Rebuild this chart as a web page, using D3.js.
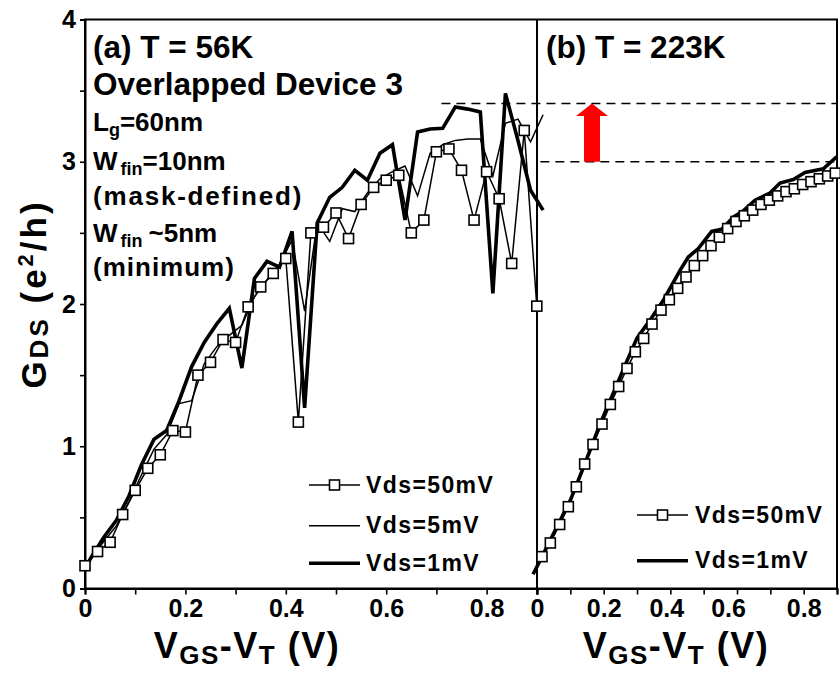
<!DOCTYPE html>
<html><head><meta charset="utf-8">
<script src="https://cdn.jsdelivr.net/npm/d3@7"></script>
<style>
body{margin:0;background:#fff}
svg{display:block}
text{font-family:"Liberation Sans",Arial,sans-serif;font-weight:bold;fill:#000}
</style>
</head><body>
<svg id="c" width="840" height="673"></svg>
<script>
// ---------- DATA ----------
// Panel (a) T = 56K, Vds = 50 mV (square markers)
const aX50 = [0,0.025,0.05,0.075,0.1,0.125,0.15,0.175,0.2,0.225,0.25,0.275,0.3,0.325,0.35,0.375,0.4,0.425,0.45,0.475,0.5,0.525,0.55,0.575,0.6,0.625,0.65,0.675,0.7,0.725,0.75,0.775,0.8,0.825,0.85,0.875,0.9];
const aY50 = [0.16,0.26,0.325,0.52,0.69,0.845,0.94,1.11,1.10,1.50,1.59,1.75,1.73,1.98,2.12,2.215,2.32,1.17,2.50,2.54,2.64,2.46,2.70,2.82,2.87,2.905,2.50,2.59,3.07,3.09,2.94,2.59,2.93,2.74,2.285,3.22,1.985];
// Panel (a), Vds = 5 mV and 1 mV share this x grid
const aXlow = [0,0.0125,0.0375,0.0625,0.0875,0.1125,0.1375,0.1625,0.1875,0.2125,0.2375,0.2625,0.2875,0.3125,0.3375,0.3625,0.3875,0.4125,0.4375,0.4625,0.4875,0.5125,0.5375,0.5625,0.5875,0.6125,0.6375,0.6625,0.6875,0.7125,0.7375,0.7625,0.7875,0.8125,0.8375,0.8625,0.8875,0.9125];
const aY5 = [0.15,0.22,0.33,0.44,0.61,0.80,0.98,1.08,1.30,1.32,1.58,1.70,1.78,1.85,2.05,2.17,2.28,2.45,1.95,2.57,2.44,2.67,2.65,2.78,2.88,2.93,2.97,2.76,3.06,3.12,3.15,3.16,3.16,2.90,3.27,3.30,3.14,3.33];
const aY1 = [0.14,0.22,0.36,0.48,0.65,0.87,1.05,1.11,1.32,1.56,1.73,1.86,1.97,1.55,2.18,2.30,2.26,2.51,1.27,2.57,2.75,2.82,2.94,2.87,3.06,3.12,2.59,3.21,3.23,3.235,3.385,3.37,3.35,2.075,3.48,3.15,2.80,2.66];
// Panel (b) T = 223K, Vds = 50 mV (square markers)
const bX50 = [0.015,0.04,0.068,0.094,0.118,0.143,0.168,0.195,0.22,0.245,0.27,0.295,0.32,0.345,0.372,0.397,0.422,0.447,0.472,0.497,0.522,0.547,0.572,0.597,0.622,0.647,0.672,0.697,0.722,0.747,0.772,0.797,0.822,0.847,0.872,0.895];
const bY50 = [0.224,0.32,0.45,0.575,0.715,0.875,1.013,1.156,1.294,1.42,1.547,1.664,1.758,1.859,1.957,2.03,2.11,2.19,2.27,2.34,2.41,2.47,2.53,2.58,2.62,2.66,2.70,2.73,2.76,2.79,2.81,2.84,2.86,2.88,2.90,2.92];
// Panel (b), Vds = 1 mV
const bX1 = [-0.012,0,0.05,0.1,0.14,0.19,0.23,0.27,0.3,0.34,0.38,0.43,0.454,0.484,0.524,0.554,0.589,0.619,0.654,0.699,0.729,0.769,0.804,0.859,0.899];
const bY1 = [0.10,0.154,0.388,0.62,0.856,1.16,1.38,1.60,1.76,1.89,2.03,2.24,2.33,2.39,2.51,2.525,2.61,2.655,2.73,2.78,2.85,2.875,2.925,2.95,3.035];

const yTicks = [0,0.5,1,1.5,2,2.5,3,3.5,4];
const yTickLabels = ["0","","1","","2","","3","","4"];
const xTicks = [0,0.1,0.2,0.3,0.4,0.5,0.6,0.7,0.8,0.9];
const xTickLabels = ["0","","0.2","","0.4","","0.6","","0.8",""];
const legendA = ["Vds=50mV","Vds=5mV","Vds=1mV"];
const legendB = ["Vds=50mV","Vds=1mV"];
const dashTop = 3.41, dashBottom = 3.0;   // G levels of the two dashed guides
const dashTopStartA = 0.71;               // where the upper guide starts in panel (a)
const arrowXB = 0.165;                    // arrow position in panel (b)

// ---------- SCALES ----------
const svg = d3.select("#c");
const y = d3.scaleLinear().domain([0,4]).range([588.5,19.5]);
const xA = d3.scaleLinear().domain([0,0.9]).range([85,536.8]);
const xB = d3.scaleLinear().domain([0,0.9]).range([537,837]);

// ---------- FRAME ----------
const frame = svg.append("g").attr("fill","none").attr("stroke","#000").attr("stroke-width",2);
frame.append("rect").attr("x",xA(0)).attr("y",y(4)).attr("width",xB(0.9)-xA(0)).attr("height",y(0)-y(4));
frame.append("line").attr("x1",xB(0)).attr("x2",xB(0)).attr("y1",y(4)).attr("y2",y(0));

// ---------- AXES ----------
const fmtFrom = (vals, labels) => (d) => labels[vals.indexOf(d)];
const yAx = svg.append("g").attr("transform",`translate(${xA(0)},0)`)
  .call(d3.axisLeft(y).tickValues(yTicks).tickSize(5).tickPadding(4).tickFormat(fmtFrom(yTicks,yTickLabels)));
const xAxA = svg.append("g").attr("transform",`translate(0,${y(0)})`)
  .call(d3.axisBottom(xA).tickValues(xTicks).tickSize(6).tickPadding(5).tickFormat(fmtFrom(xTicks,xTickLabels)));
const xAxB = svg.append("g").attr("transform",`translate(0,${y(0)})`)
  .call(d3.axisBottom(xB).tickValues(xTicks).tickSize(6).tickPadding(5).tickFormat(fmtFrom(xTicks,xTickLabels)));
[yAx,xAxA,xAxB].forEach(g=>{
  g.select(".domain").attr("stroke-width",2);
  g.selectAll(".tick line").attr("stroke-width",1.6);
  g.selectAll("text").attr("font-size",25).attr("font-family","Liberation Sans, Arial, sans-serif").attr("font-weight","bold");
});
// panel (b) labels sit slightly left of their ticks in the original
const bLabelShift = {0.4:-4, 0.6:-9};
xAxB.selectAll(".tick text").attr("dx",d=>bLabelShift[d]||0);

// ---------- DASHED GUIDES + ARROW ----------
const guides = svg.append("g").attr("stroke","#000").attr("stroke-width",1.6).attr("stroke-dasharray","9,6");
guides.append("line").attr("x1",xA(dashTopStartA)).attr("x2",xB(0.9)).attr("y1",y(dashTop)).attr("y2",y(dashTop));
guides.append("line").attr("x1",xB(0.01)).attr("x2",xB(0.9)).attr("y1",y(dashBottom)).attr("y2",y(dashBottom));

const ax = xB(arrowXB), yTip = y(dashTop), yBase = y(dashBottom);
svg.append("path").attr("fill","#ff0000")
  .attr("d",`M${ax},${yTip} L${ax+16},${yTip+12.5} L${ax+8},${yTip+12.5} L${ax+8},${yBase} L${ax-8},${yBase} L${ax-8},${yTip+12.5} L${ax-16},${yTip+12.5} Z`);

// ---------- SERIES ----------
const lineA = d3.line().x(d=>xA(d[0])).y(d=>y(d[1]));
const lineB = d3.line().x(d=>xB(d[0])).y(d=>y(d[1]));
const zip = (xs,ys)=>xs.map((v,i)=>[v,ys[i]]);
const a50 = zip(aX50,aY50), a5 = zip(aXlow,aY5), a1 = zip(aXlow,aY1);
const b50 = zip(bX50,bY50), b1 = zip(bX1,bY1);

const plot = svg.append("g").attr("fill","none").attr("stroke","#000").attr("stroke-linejoin","miter");
plot.append("path").attr("d",lineA(a50)).attr("stroke-width",1.5);
plot.append("path").attr("d",lineA(a5)).attr("stroke-width",1.5);
plot.append("path").attr("d",lineA(a1)).attr("stroke-width",3.6);
plot.append("path").attr("d",lineB(b50)).attr("stroke-width",1.5);
plot.append("path").attr("d",lineB(b1)).attr("stroke-width",3.6);

const sq = 10;
function squares(data, xs){
  svg.append("g").selectAll("rect").data(data).join("rect")
    .attr("x",d=>xs(d[0])-sq/2).attr("y",d=>y(d[1])-sq/2)
    .attr("width",sq).attr("height",sq)
    .attr("fill","#fff").attr("stroke","#000").attr("stroke-width",1.6);
}
squares(a50,xA);
squares(b50,xB);

// ---------- LEGENDS ----------
function legend(items, styles, x0, x1, ys, tx){
  const g = svg.append("g");
  items.forEach((t,i)=>{
    g.append("line").attr("x1",x0).attr("x2",x1).attr("y1",ys[i]).attr("y2",ys[i])
      .attr("stroke","#000").attr("stroke-width",styles[i]==="thick"?3.6:1.5);
    if(styles[i]==="square"){
      g.append("rect").attr("x",(x0+x1)/2-sq/2).attr("y",ys[i]-sq/2).attr("width",sq).attr("height",sq)
        .attr("fill","#fff").attr("stroke","#000").attr("stroke-width",1.6);
    }
    g.append("text").attr("x",tx).attr("y",ys[i]+7.5).attr("font-size",23).attr("letter-spacing",1.4).text(t);
  });
}
legend(legendA,["square","thin","thick"],309,360,[485,525.7,563.3],366);
legend(legendB,["square","thick"],637,688,[515,560.7],695);

// ---------- ANNOTATIONS ----------
svg.append("text").attr("x",93).attr("y",58).attr("font-size",31.5).text("(a) T = 56K");
svg.append("text").attr("x",93).attr("y",95).attr("font-size",31.5).text("Overlapped Device 3");
svg.append("text").attr("x",546).attr("y",58).attr("font-size",31.5).text("(b) T = 223K");
const t1 = svg.append("text").attr("x",93).attr("y",131).attr("font-size",26);
t1.append("tspan").text("L");
t1.append("tspan").attr("font-size",18).attr("dy",5).text("g");
t1.append("tspan").attr("dy",-5).text("=60nm");
const t2 = svg.append("text").attr("x",93).attr("y",170).attr("font-size",26);
t2.append("tspan").text("W");
t2.append("tspan").attr("font-size",18).attr("dy",5).attr("dx",3).text("fin");
t2.append("tspan").attr("dy",-5).text("=10nm");
svg.append("text").attr("x",93).attr("y",205).attr("font-size",26).attr("letter-spacing",1.8).text("(mask-defined)");
const t3 = svg.append("text").attr("x",93).attr("y",242).attr("font-size",26);
t3.append("tspan").text("W");
t3.append("tspan").attr("font-size",18).attr("dy",5).attr("dx",3).text("fin");
t3.append("tspan").attr("dy",-5).attr("dx",6).text("~5nm");
svg.append("text").attr("x",93).attr("y",276).attr("font-size",26).attr("letter-spacing",1).text("(minimum)");

// axis titles
function xTitle(cx){
  const t = svg.append("text").attr("x",cx).attr("y",658).attr("text-anchor","middle").attr("font-size",36).attr("letter-spacing",1.5);
  t.append("tspan").text("V");
  t.append("tspan").attr("font-size",26).attr("dy",6).text("GS");
  t.append("tspan").attr("dy",-6).text("-V");
  t.append("tspan").attr("font-size",26).attr("dy",6).text("T");
  t.append("tspan").attr("dy",-6).text(" (V)");
}
xTitle(247);
xTitle(676);
const yt = svg.append("text").attr("transform","translate(46,294) rotate(-90)").attr("text-anchor","middle").attr("font-size",35).attr("letter-spacing",3);
yt.append("tspan").text("G");
yt.append("tspan").attr("font-size",26).attr("dy",2).text("DS");
yt.append("tspan").attr("dy",-2).text(" (e");
yt.append("tspan").attr("font-size",22).attr("dy",-13).text("2");
yt.append("tspan").attr("dy",13).text("/h)");
</script>
</body></html>
